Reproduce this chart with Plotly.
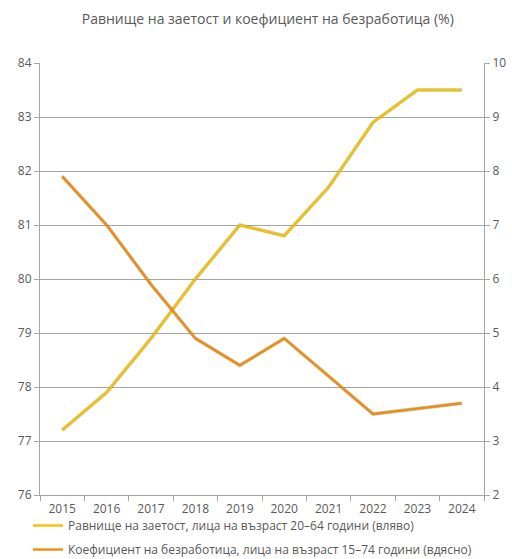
import plotly.graph_objects as go

years = ["2015", "2016", "2017", "2018", "2019", "2020", "2021", "2022", "2023", "2024"]
employment_rate = [77.2, 77.9, 78.9, 80.0, 81.0, 80.8, 81.7, 82.9, 83.5, 83.5]
unemployment_rate = [7.9, 7.0, 5.9, 4.9, 4.4, 4.9, 4.2, 3.5, 3.6, 3.7]

employment_name = "Равнище на заетост, лица на възраст 20–64 години (вляво)"
unemployment_name = "Коефициент на безработица, лица на възраст 15–74 години (вдясно)"

YELLOW = "#F2C300"
ORANGE = "#EF8E0C"
SHADOW = "rgba(110,110,110,0.4)"
GRID = "#A6A6A6"
TEXT = "#595959"
FONT = "Open Sans"

fig = go.Figure()

# soft grey outline beneath each line
fig.add_trace(go.Scatter(x=years, y=employment_rate, mode="lines",
                         line=dict(color=SHADOW, width=3.6), showlegend=False,
                         hoverinfo="skip", yaxis="y"))
fig.add_trace(go.Scatter(x=years, y=unemployment_rate, mode="lines",
                         line=dict(color=SHADOW, width=3.6), showlegend=False,
                         hoverinfo="skip", yaxis="y2"))

fig.add_trace(go.Scatter(x=years, y=employment_rate, mode="lines", name=employment_name,
                         line=dict(color=YELLOW, width=2.4), yaxis="y", legendgroup="a"))
fig.add_trace(go.Scatter(x=years, y=unemployment_rate, mode="lines", name=unemployment_name,
                         line=dict(color=ORANGE, width=2.4), yaxis="y2", legendgroup="b"))

fig.update_layout(
    width=512, height=559,
    margin=dict(l=40, r=28, t=63, b=64, autoexpand=False),
    paper_bgcolor="white", plot_bgcolor="white",
    font=dict(family=FONT, color=TEXT, size=12),
    title=dict(text="Равнище на заетост и коефициент на безработица (%)",
               x=0.523, xanchor="center", y=0.965, yanchor="middle",
               font=dict(family=FONT, size=14, color=TEXT)),
    xaxis=dict(type="category", range=[-0.5, 9.5], showgrid=False, showline=True,
               linecolor=GRID, linewidth=1, ticks="outside", tickson="boundaries",
               ticklen=5, tickcolor=GRID, ticklabelstandoff=3,
               tickfont=dict(size=12, color=TEXT)),
    yaxis=dict(range=[76, 84], dtick=1, showgrid=True, gridcolor=GRID, gridwidth=1,
               showline=True, linecolor=GRID, linewidth=1, ticks="outside", ticklen=5,
               tickcolor=GRID, zeroline=False, tickfont=dict(size=12, color=TEXT)),
    yaxis2=dict(range=[2, 10], dtick=1, overlaying="y", side="right", showgrid=False,
                showline=True, linecolor=GRID, linewidth=1, ticks="outside", ticklen=5,
                tickcolor=GRID, zeroline=False, tickfont=dict(size=12, color=TEXT)),
    legend=dict(orientation="v", xref="container", yref="container",
                x=28 / 512, xanchor="left", y=1 - 511 / 559, yanchor="top",
                traceorder="grouped", tracegroupgap=5, itemwidth=30,
                font=dict(size=12, color=TEXT), bgcolor="rgba(0,0,0,0)"),
    showlegend=True,
)

fig.write_html("out.html")
